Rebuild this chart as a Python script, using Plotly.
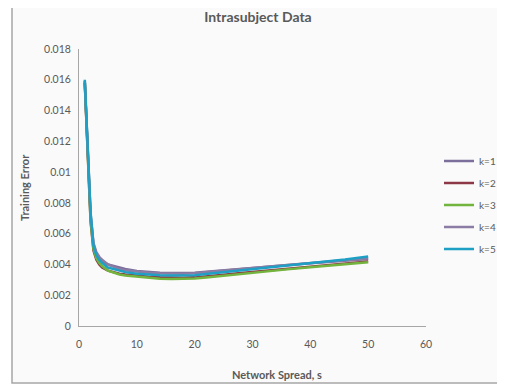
import plotly.graph_objects as go

# ---- data ----
spread = [1, 1.5, 2, 2.5, 3, 3.5, 4, 5, 6, 7, 8, 10, 12, 14, 16, 18, 20, 22, 25, 28, 30, 33, 36, 40, 43, 46, 50]

k1 = [0.0159, 0.0115, 0.0072, 0.0053, 0.0047, 0.0044, 0.0042, 0.0040, 0.0039, 0.00375, 0.0037, 0.00358,
      0.0035, 0.00346, 0.00344, 0.00344, 0.00346, 0.00352, 0.00362, 0.00372, 0.00378, 0.00387, 0.00396,
      0.00408, 0.00416, 0.00425, 0.00436]
k2 = [0.0158, 0.0112, 0.0068, 0.0049, 0.0043, 0.0040, 0.0038, 0.0036, 0.00348, 0.0034, 0.00334, 0.00325,
      0.0032, 0.00316, 0.00314, 0.00314, 0.00316, 0.00322, 0.00333, 0.00345, 0.00352, 0.00363, 0.00374,
      0.00388, 0.00397, 0.00406, 0.0042]
k3 = [0.0158, 0.0113, 0.0069, 0.0050, 0.0044, 0.0041, 0.0039, 0.0036, 0.00345, 0.00335, 0.00328, 0.0032,
      0.00312, 0.00307, 0.00305, 0.00305, 0.00308, 0.00315, 0.00327, 0.0034, 0.00346, 0.00358, 0.00368,
      0.00382, 0.00392, 0.00402, 0.00414]
k4 = [0.0159, 0.0116, 0.0073, 0.0054, 0.0048, 0.0045, 0.0043, 0.0040, 0.00385, 0.0037, 0.00362, 0.00352,
      0.00346, 0.00342, 0.0034, 0.0034, 0.00343, 0.00349, 0.0036, 0.0037, 0.00377, 0.00387, 0.00397,
      0.0041, 0.00419, 0.00428, 0.0044]
k5 = [0.0160, 0.0118, 0.0074, 0.0052, 0.0046, 0.0043, 0.0041, 0.0038, 0.0037, 0.00358, 0.0035, 0.0034,
      0.00333, 0.0033, 0.00328, 0.00328, 0.0033, 0.00338, 0.0035, 0.00363, 0.0037, 0.00383, 0.00394,
      0.00408, 0.00419, 0.00432, 0.00452]

series_names = ["k=1", "k=2", "k=3", "k=4", "k=5"]
series_values = [k1, k2, k3, k4, k5]
series_colors = ["#7d6f9c", "#8c3846", "#72b43e", "#8a7ca4", "#1e9fc4"]

y_ticks = [0, 0.002, 0.004, 0.006, 0.008, 0.01, 0.012, 0.014, 0.016, 0.018]
y_tick_labels = ["0", "0.002", "0.004", "0.006", "0.008", "0.01", "0.012", "0.014", "0.016", "0.018"]
x_ticks = [0, 10, 20, 30, 40, 50, 60]

FONT = "Lato"
TXT = "#595959"

fig = go.Figure()
for name, vals, col in zip(series_names, series_values, series_colors):
    fig.add_trace(go.Scatter(x=spread, y=vals, mode="lines", name=name, legendgroup=name,
                             line=dict(color=col, width=2.5)))

# The page body has an 8px default margin, so the figure is drawn 8px in from the window edge.
OFF = 8
W, H = 505 - OFF, 390 - OFF
L, R, T, B = 79 - OFF, 79, 49 - OFF, 64
pw, ph = W - L - R, H - T - B

def px(xp):  # reference window pixel -> paper x
    return (xp - OFF - L) / pw

def py(yp):  # reference window pixel -> paper y
    return (H - B - (yp - OFF)) / ph

fig.update_layout(
    width=W, height=H,
    margin=dict(l=L, r=R, t=T, b=B, autoexpand=False),
    paper_bgcolor="white",
    plot_bgcolor="rgba(0,0,0,0)",
    font=dict(family=FONT, size=11, color=TXT),
    title=dict(text="<b>Intrasubject Data</b>", x=(258 - OFF) / W, xanchor="center",
               y=1 - (17 - OFF) / H, yanchor="middle", font=dict(size=14, color=TXT, family=FONT)),
    showlegend=True,
    legend=dict(x=px(439), xanchor="left", y=py(205), yanchor="middle",
                bgcolor="rgba(0,0,0,0)", font=dict(size=10, color=TXT, family=FONT),
                tracegroupgap=3, itemwidth=30),
    xaxis=dict(range=[0, 60], tickvals=x_ticks, showgrid=False, zeroline=False,
               showline=True, linecolor="#a6a6a6", linewidth=1, ticks="",
               ticklabelstandoff=8, tickfont=dict(size=10.5, color=TXT)),
    yaxis=dict(range=[0, 0.018], tickvals=y_ticks, ticktext=y_tick_labels, showgrid=False,
               zeroline=False, showline=True, linecolor="#a6a6a6", linewidth=1, ticks="",
               ticklabelstandoff=5, tickfont=dict(size=10.5, color=TXT)),
    shapes=[dict(type="rect", xref="paper", yref="paper", layer="below",
                 x0=px(12), x1=px(507), y0=py(383), y1=py(0),
                 line=dict(color="#a6a6a6", width=1.5), fillcolor="#fafafa")],
    annotations=[
        dict(text="<b>Network Spread, s</b>", xref="paper", yref="paper", x=px(277), y=py(374),
             xanchor="center", yanchor="middle", showarrow=False, font=dict(size=11, color=TXT)),
        dict(text="<b>Training Error</b>", xref="paper", yref="paper", x=px(24), y=py(188),
             xanchor="center", yanchor="middle", showarrow=False, textangle=-90,
             font=dict(size=11, color=TXT)),
    ],
)

fig.write_html("out.html")
